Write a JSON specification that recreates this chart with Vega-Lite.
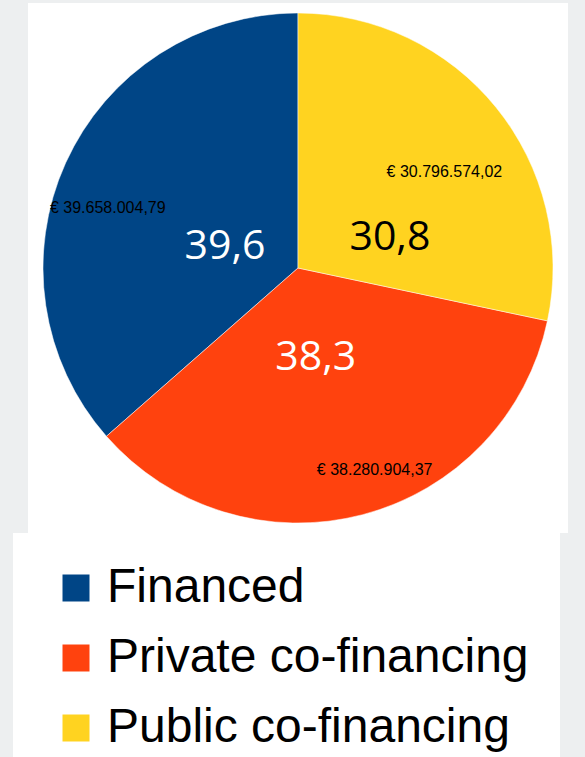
{
  "$schema": "https://vega.github.io/schema/vega-lite/v6.json",
  "width": 540,
  "height": 530,
  "autosize": "none",
  "padding": {"left": 28, "top": 3, "right": 17, "bottom": 224},
  "background": "#edeff0",
  "config": {
    "view": {"stroke": null},
    "locale": {"number": {"decimal": ",", "thousands": ".", "grouping": [3], "currency": ["€ ", ""]}}
  },
  "data": {
    "values": [
      {"category": "Financed", "amount": 39658004.79, "pct": 39.6},
      {"category": "Private co-financing", "amount": 38280904.37, "pct": 38.3},
      {"category": "Public co-financing", "amount": 30796574.02, "pct": 30.8}
    ]
  },
  "layer": [
    {
      "data": {"values": [{"panel": "plot"}]},
      "mark": {"type": "rect", "fill": "white"},
      "encoding": {
        "x": {"value": 0},
        "x2": {"value": "width"},
        "y": {"value": 0},
        "y2": {"value": "height"}
      }
    },
    {
      "encoding": {
        "theta": {"field": "amount", "type": "quantitative", "stack": true},
        "order": {"field": "amount", "type": "quantitative", "sort": "ascending"}
      },
      "layer": [
        {
          "mark": {"type": "arc", "radius": 255, "stroke": "white", "strokeWidth": 0.5},
          "encoding": {
            "color": {
              "field": "category",
              "type": "nominal",
              "scale": {"domain": ["Financed", "Private co-financing", "Public co-financing"], "range": ["#004586", "#ff420e", "#ffd320"]},
              "legend": {
                "title": null,
                "orient": "none",
                "legendX": -15,
                "legendY": 530,
                "fillColor": "white",
                "strokeColor": null,
                "padding": 31,
                "symbolType": "square",
                "symbolSize": 729,
                "symbolStrokeWidth": 0,
                "symbolOffset": 8,
                "labelFont": "Liberation Sans",
                "labelFontSize": 48,
                "labelColor": "black",
                "labelOffset": 7,
                "labelLimit": 600,
                "rowPadding": 22
              }
            }
          }
        },
        {
          "mark": {"type": "text", "radius": 200, "dx": -8, "dy": 22, "font": "Liberation Sans", "fontSize": 16, "color": "black"},
          "encoding": {"text": {"condition": {"test": "datum.category === 'Financed'", "field": "amount", "type": "quantitative", "format": "$,.2f"}, "value": ""}}
        },
        {
          "mark": {"type": "text", "radius": 200, "dx": 26, "dy": 9, "font": "Liberation Sans", "fontSize": 16, "color": "black"},
          "encoding": {"text": {"condition": {"test": "datum.category === 'Private co-financing'", "field": "amount", "type": "quantitative", "format": "$,.2f"}, "value": ""}}
        },
        {
          "mark": {"type": "text", "radius": 200, "dx": -9, "dy": 30, "font": "Liberation Sans", "fontSize": 16, "color": "black"},
          "encoding": {"text": {"condition": {"test": "datum.category === 'Public co-financing'", "field": "amount", "type": "quantitative", "format": "$,.2f"}, "value": ""}}
        },
        {
          "mark": {"type": "text", "radius": 90, "dx": 9, "dy": 16, "font": "Open Sans", "fontSize": 41, "color": "white"},
          "encoding": {"text": {"condition": {"test": "datum.category === 'Financed'", "field": "pct", "type": "quantitative", "format": ".1f"}, "value": ""}}
        },
        {
          "mark": {"type": "text", "radius": 90, "dx": -5, "dy": 3, "font": "Open Sans", "fontSize": 41, "color": "white"},
          "encoding": {"text": {"condition": {"test": "datum.category === 'Private co-financing'", "field": "pct", "type": "quantitative", "format": ".1f"}, "value": ""}}
        },
        {
          "mark": {"type": "text", "radius": 90, "dx": 22, "dy": 27, "font": "Open Sans", "fontSize": 41, "color": "black"},
          "encoding": {"text": {"condition": {"test": "datum.category === 'Public co-financing'", "field": "pct", "type": "quantitative", "format": ".1f"}, "value": ""}}
        }
      ]
    }
  ]
}
